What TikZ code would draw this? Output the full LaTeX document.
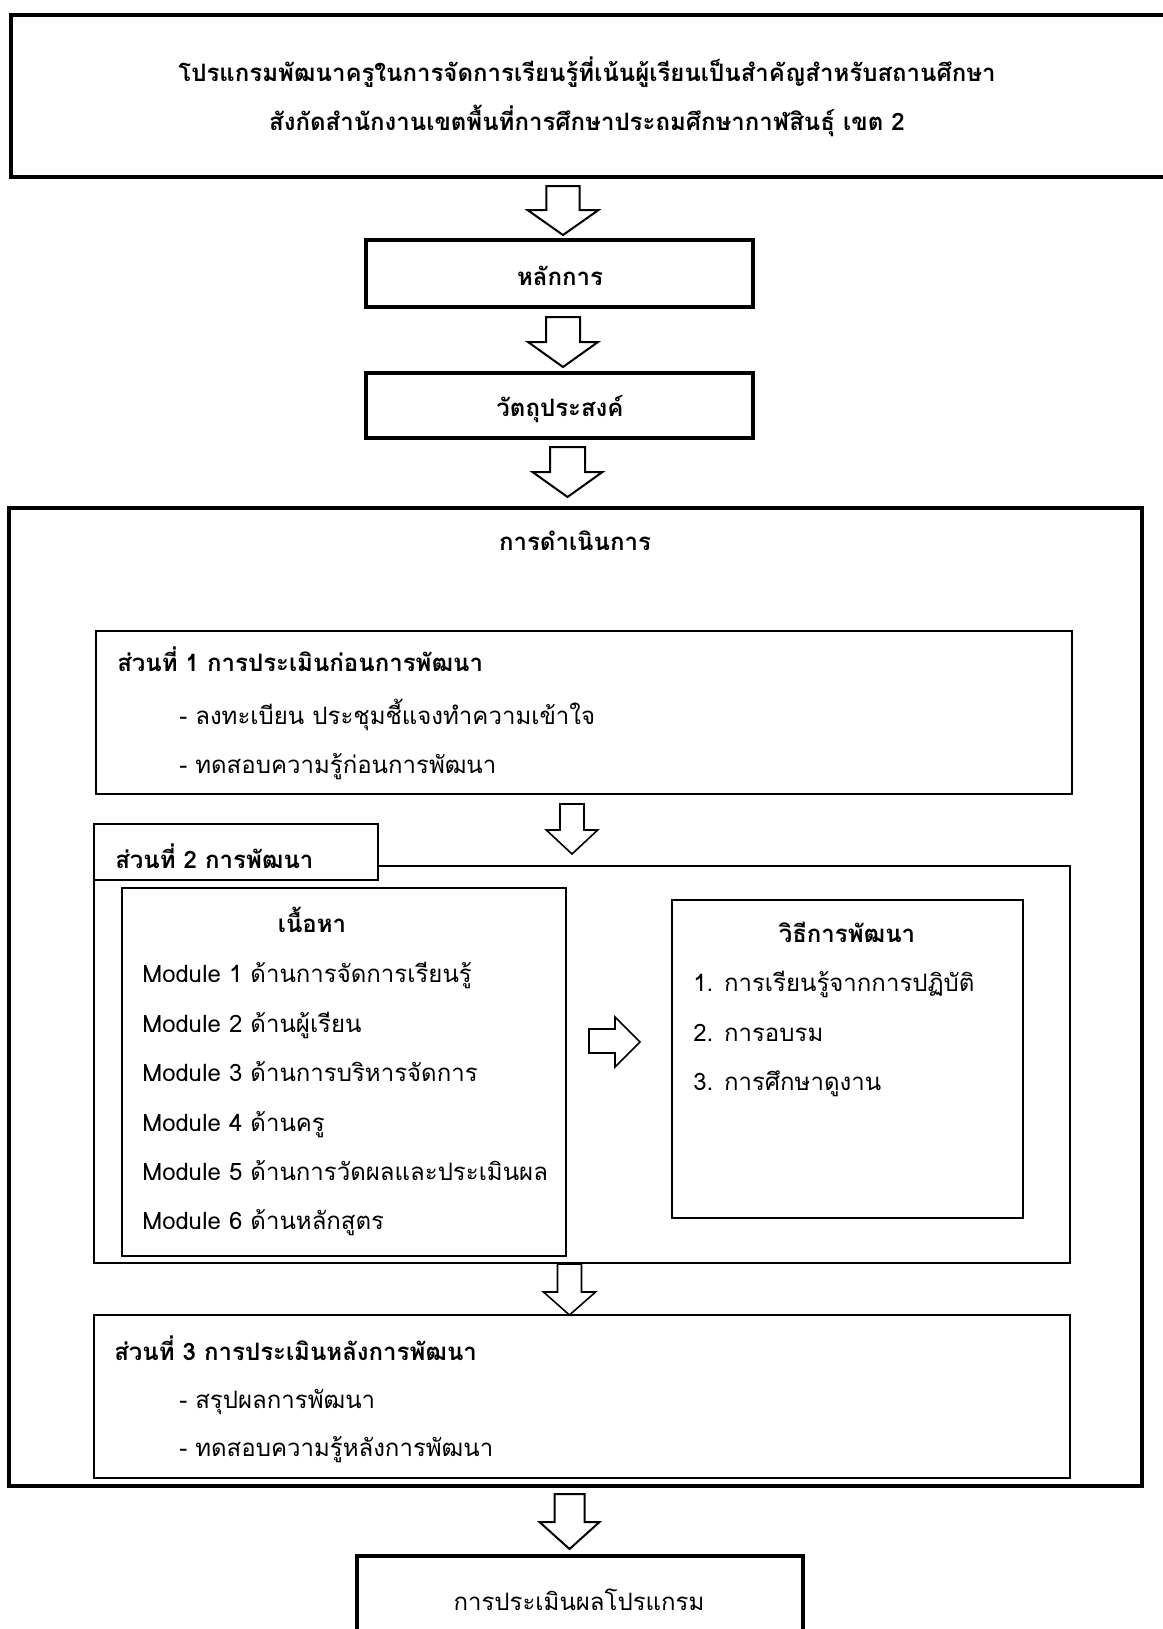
\documentclass[tikz,border=0pt]{standalone}
\usepackage{fontspec}
\setmainfont{Loma}[Script=Thai]
\usetikzlibrary{fit}
\newcommand\downblock[7]{%
  \draw[line width=#7, fill=white, line join=miter]
    (#1-#5,#2) -- (#1+#5,#2) -- (#1+#5,#3) -- (#1+#6,#3) -- (#1,#4)
    -- (#1-#6,#3) -- (#1-#5,#3) -- cycle;}
\begin{document}
\begin{tikzpicture}[x=0.75pt,y=-0.75pt,
  thickbox/.style={draw, line width=3pt, inner sep=0pt, fill=white},
  bigbox/.style={draw, line width=3.4pt, inner sep=0pt},
  thinbox/.style={draw, line width=1.5pt, inner sep=0pt},
  txt/.style={inner sep=0pt, font=\fontsize{18}{22}\selectfont},
  btxt/.style={inner sep=0pt, font=\fontsize{18}{22}\selectfont\bfseries}]
\useasboundingbox (0,0) rectangle (1163,1629);

% top box
\coordinate (t1) at (11,15); \coordinate (t2) at (1180,177);
\node[thickbox, fit=(t1)(t2)] (top) {};
\node[btxt, anchor=base] (title1) at (587,81) {โปรแกรมพัฒนาครูในการจัดการเรียนรู้ที่เน้นผู้เรียนเป็นสำคัญสำหรับสถานศึกษา};
\node[btxt, anchor=base] (title2) at (587,130) {สังกัดสำนักงานเขตพื้นที่การศึกษาประถมศึกษากาฬสินธุ์ เขต 2};

\downblock{563}{186}{210}{235}{16.7}{35.5}{1.5pt}

% principle
\coordinate (p1) at (366,240); \coordinate (p2) at (753,307);
\node[thickbox, fit=(p1)(p2)] (principle) {};
\node[btxt, anchor=base] (principletxt) at (560,285) {หลักการ};

\downblock{563}{317}{342}{367}{17}{35}{1.5pt}

% objective
\coordinate (o1) at (366,373); \coordinate (o2) at (753,438);
\node[thickbox, fit=(o1)(o2)] (objective) {};
\node[btxt, anchor=base] (objectivetxt) at (560,416) {วัตถุประสงค์};

\downblock{567.5}{447}{472}{497}{17.5}{35}{1.5pt}

% big box
\coordinate (b1) at (9,508); \coordinate (b2) at (1142,1486);
\node[bigbox, fit=(b1)(b2)] (big) {};
\node[btxt, anchor=base] (bigtxt) at (575,550) {การดำเนินการ};

% part 1
\coordinate (a1) at (96,631); \coordinate (a2) at (1072,794);
\node[thinbox, fit=(a1)(a2)] (part1) {};
\node[btxt, anchor=base west] (part1t) at (117,671) {ส่วนที่ 1 การประเมินก่อนการพัฒนา};
\node[txt, anchor=base west] (part1a) at (179,724) {- ลงทะเบียน ประชุมชี้แจงทำความเข้าใจ};
\node[txt, anchor=base west] (part1b) at (179,773) {- ทดสอบความรู้ก่อนการพัฒนา};

\downblock{572}{804}{830}{854}{12}{25.7}{1.2pt}

% part 2
\coordinate (c1) at (94,866); \coordinate (c2) at (1070,1263);
\node[thinbox, fit=(c1)(c2)] (part2) {};
\coordinate (d1) at (94,824); \coordinate (d2) at (378,880);
\node[thinbox, fill=white, fit=(d1)(d2)] (tab) {};
\node[btxt, anchor=base west] (tabtxt) at (115,868) {ส่วนที่ 2 การพัฒนา};

\coordinate (e1) at (122,888); \coordinate (e2) at (566,1256);
\node[thinbox, fit=(e1)(e2)] (content) {};
\node[btxt, anchor=base] (contentt) at (312,932) {เนื้อหา};
\node[txt, anchor=base west] (m1) at (142,982) {Module 1 ด้านการจัดการเรียนรู้};
\node[txt, anchor=base west] (m2) at (142,1032) {Module 2 ด้านผู้เรียน};
\node[txt, anchor=base west] (m3) at (142,1081) {Module 3 ด้านการบริหารจัดการ};
\node[txt, anchor=base west] (m4) at (142,1131) {Module 4 ด้านครู};
\node[txt, anchor=base west] (m5) at (142,1180) {Module 5 ด้านการวัดผลและประเมินผล};
\node[txt, anchor=base west] (m6) at (142,1229) {Module 6 ด้านหลักสูตร};

% right arrow
\draw[line width=1.2pt, fill=white, line join=miter]
  (589,1029) -- (615,1029) -- (615,1017) -- (640,1042) -- (615,1067)
  -- (615,1053) -- (589,1053) -- cycle;

\coordinate (f1) at (672,900); \coordinate (f2) at (1023,1218);
\node[thinbox, fit=(f1)(f2)] (method) {};
\node[btxt, anchor=base] (methodt) at (847,942) {วิธีการพัฒนา};
\node[txt, anchor=base west] (w1) at (693,991) {1. การเรียนรู้จากการปฏิบัติ};
\node[txt, anchor=base west] (w2) at (693,1041) {2. การอบรม};
\node[txt, anchor=base west] (w3) at (693,1090) {3. การศึกษาดูงาน};

\downblock{569.5}{1264}{1292}{1315}{12}{26}{1.2pt}

% part 3
\coordinate (g1) at (94,1315); \coordinate (g2) at (1070,1478);
\node[thinbox, fit=(g1)(g2)] (part3) {};
\node[btxt, anchor=base west] (part3t) at (114,1360) {ส่วนที่ 3 การประเมินหลังการพัฒนา};
\node[txt, anchor=base west] (part3a) at (179,1408) {- สรุปผลการพัฒนา};
\node[txt, anchor=base west] (part3b) at (179,1456) {- ทดสอบความรู้หลังการพัฒนา};

\downblock{569.5}{1494}{1522}{1549}{15}{30}{1.5pt}

% final box
\coordinate (h1) at (357,1556); \coordinate (h2) at (803,1650);
\node[thickbox, fit=(h1)(h2)] (final) {};
\node[txt, anchor=base] (finaltxt) at (579,1610) {การประเมินผลโปรแกรม};
\end{tikzpicture}
\end{document}
